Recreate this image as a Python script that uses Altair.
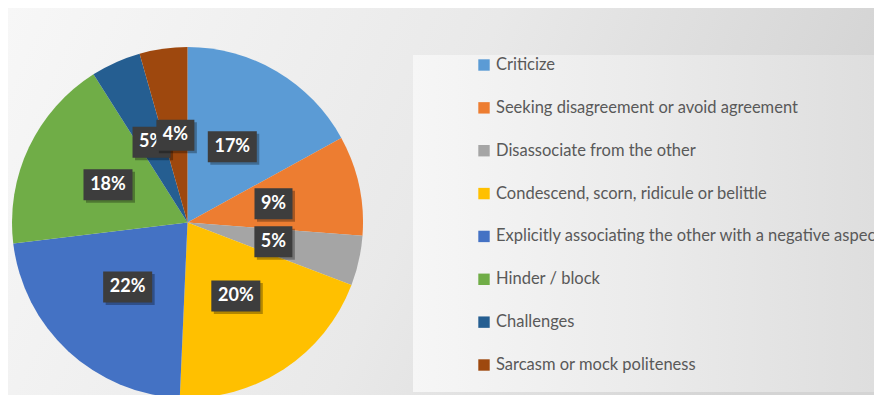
import altair as alt
import pandas as pd

categories = [
    "Criticize",
    "Seeking disagreement or avoid agreement",
    "Disassociate from the other",
    "Condescend, scorn, ridicule or belittle",
    "Explicitly associating the other with a negative aspect",
    "Hinder / block",
    "Challenges",
    "Sarcasm or mock politeness",
]
values = [17.0, 9.2, 4.6, 19.9, 22.4, 17.9, 4.6, 4.4]
labels = ["17%", "9%", "5%", "20%", "22%", "18%", "5%", "4%"]
colors = ["#5B9BD5", "#ED7D31", "#A5A5A5", "#FFC000", "#4472C4", "#70AD47", "#255E91", "#9E480E"]

W, H = 866, 387
CX, CY = 179.5, 214.5
R = 175.5
RL = 88.0  # label radius

df = pd.DataFrame({"idx": list(range(len(categories))), "cat": categories,
                   "value": values, "label": labels, "color": colors})
one = pd.DataFrame({"a": [0]})

bg = alt.Chart(one).mark_rect(
    color=alt.Gradient(gradient="linear", x1=0, y1=0, x2=1, y2=0.2,
                       stops=[alt.GradientStop(color="#f7f7f7", offset=0),
                              alt.GradientStop(color="#e9e9e9", offset=0.55),
                              alt.GradientStop(color="#d4d4d4", offset=1)])
).encode(x=alt.value(0), x2=alt.value(W), y=alt.value(0), y2=alt.value(H))

legbox = alt.Chart(one).mark_rect(
    color=alt.Gradient(gradient="linear", x1=0, y1=0, x2=1, y2=0,
                       stops=[alt.GradientStop(color="#f6f6f6", offset=0),
                              alt.GradientStop(color="#ebebeb", offset=0.5),
                              alt.GradientStop(color="#dedede", offset=1)])
).encode(x=alt.value(405), x2=alt.value(W), y=alt.value(47), y2=alt.value(384))

pie = alt.Chart(df).mark_arc(radius=R).encode(
    theta=alt.Theta("value:Q", stack=True),
    color=alt.Color("color:N", scale=None),
    order=alt.Order("idx:Q"),
    x=alt.value(CX), y=alt.value(CY),
)

base = alt.Chart(df).transform_joinaggregate(
    total="sum(value)"
).transform_window(
    cum="sum(value)", sort=[alt.SortField("idx")], frame=[None, 0]
).transform_calculate(
    mid="(datum.cum - datum.value/2) / datum.total * 2 * PI",
    sx="sin(datum.mid)",
    sy="cos(datum.mid)",
    hw=f"(8 + 5.5*length(datum.label)) / {RL}",
    hh=f"15.5 / {RL}",
    bx1="datum.sx - datum.hw", bx2="datum.sx + datum.hw",
    by1="datum.sy - datum.hh", by2="datum.sy + datum.hh",
    shx1=f"datum.bx1 + 2.5/{RL}", shx2=f"datum.bx2 + 2.5/{RL}",
    shy1=f"datum.by1 - 2.5/{RL}", shy2=f"datum.by2 - 2.5/{RL}",
)

xs = alt.Scale(domain=[-1, 1], range=[CX - RL, CX + RL])
ys = alt.Scale(domain=[-1, 1], range=[CY + RL, CY - RL])


def boxes(flt):
    sh = base.transform_filter(flt).mark_rect(color="#000000", opacity=0.3).encode(
        x=alt.X("shx1:Q", scale=xs, axis=None), x2="shx2:Q",
        y=alt.Y("shy1:Q", scale=ys, axis=None), y2="shy2:Q")
    bx = base.transform_filter(flt).mark_rect(color="#3d3d3d").encode(
        x=alt.X("bx1:Q", scale=xs, axis=None), x2="bx2:Q",
        y=alt.Y("by1:Q", scale=ys, axis=None), y2="by2:Q")
    tx = base.transform_filter(flt).mark_text(
        font="Lato", fontSize=18, fontWeight="bold", color="#ffffff",
        baseline="middle", align="center").encode(
        x=alt.X("sx:Q", scale=xs, axis=None),
        y=alt.Y("sy:Q", scale=ys, axis=None),
        text="label:N")
    return [sh, bx, tx]


ly = alt.Y("cat:N", sort=categories, scale=alt.Scale(range=[57, 357], padding=0), axis=None)
legsq = alt.Chart(df).mark_square(size=130, opacity=1).encode(
    x=alt.value(476), y=ly, color=alt.Color("color:N", scale=None))
legtx = alt.Chart(df).mark_text(
    align="left", baseline="middle", font="Lato", fontSize=16.5, color="#595959"
).encode(x=alt.value(488), y=ly, text="cat:N")

layers = [bg, legbox, pie] + boxes("datum.idx < 7") + boxes("datum.idx == 7") + [legsq, legtx]

chart = alt.layer(*layers).resolve_scale(
    x="independent", y="independent"
).properties(
    width=W, height=H, padding=0, autosize=alt.AutoSizeParams(type="none")
).configure_view(stroke=None).configure(background="#ffffff")

chart.save("out.html", embed_options={"renderer": "svg", "actions": False})
